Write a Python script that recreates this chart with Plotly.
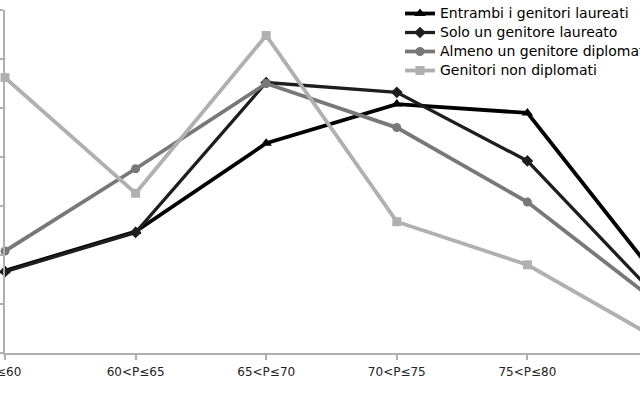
import plotly.graph_objects as go

categories = ["P≤60", "60<P≤65", "65<P≤70", "70<P≤75", "75<P≤80", "P>80"]
entrambi = [8.4, 12.4, 21.4, 25.4, 24.5, 7.6]
solo = [8.3, 12.3, 27.6, 26.6, 19.6, 5.6]
almeno = [10.4, 18.8, 27.5, 23.0, 15.4, 5.1]
non_dipl = [28.1, 16.3, 32.4, 13.4, 9.0, 1.4]

series = [
    ("Entrambi i genitori laureati", entrambi, "#000000", "triangle-up", 10, 3.8),
    ("Solo un genitore laureato", solo, "#1e1e1e", "diamond", 9, 3.3),
    ("Almeno un genitore diplomato", almeno, "#787878", "circle", 9, 3.8),
    ("Genitori non diplomati", non_dipl, "#b0b0b0", "square", 9, 3.8),
]

fig = go.Figure()
for name, vals, color, sym, size, lw in series:
    fig.add_trace(go.Scatter(
        x=list(range(len(categories))), y=vals,
        name="<span style='font-size:14px'>" + name + "</span>",
        mode="lines+markers", cliponaxis=False,
        line=dict(color=color, width=lw),
        marker=dict(symbol=sym, size=size, color=color),
    ))

fig.update_layout(
    width=640, height=400,
    margin=dict(l=5, r=0, t=10, b=47, autoexpand=False),
    paper_bgcolor="white", plot_bgcolor="white",
    showlegend=True,
    legend=dict(x=(400 - 5) / 635, y=(353 + 1) / 343, xanchor="left", yanchor="top",
                font=dict(family="DejaVu Sans", size=12, color="#000"),
                bgcolor="rgba(0,0,0,0)", tracegroupgap=0),
    xaxis=dict(
        range=[0, 635 / 130.6], tickmode="array",
        tickvals=list(range(len(categories))), ticktext=categories,
        showgrid=False, zeroline=False, showline=True, linecolor="#b0b0b0", linewidth=1.5,
        ticks="outside", ticklen=5, tickcolor="#b0b0b0", tickwidth=1.5,
        tickfont=dict(family="DejaVu Sans", size=12, color="#222"),
        ticklabelstandoff=2, ticklabeloverflow="allow", automargin=False,
    ),
    yaxis=dict(
        range=[0, 35], dtick=5, showticklabels=False,
        showgrid=False, zeroline=False, showline=True, linecolor="#b0b0b0", linewidth=1.5,
        ticks="outside", ticklen=5, tickcolor="#b0b0b0", tickwidth=1.5, automargin=False,
    ),
)

fig.write_html("out.html")
